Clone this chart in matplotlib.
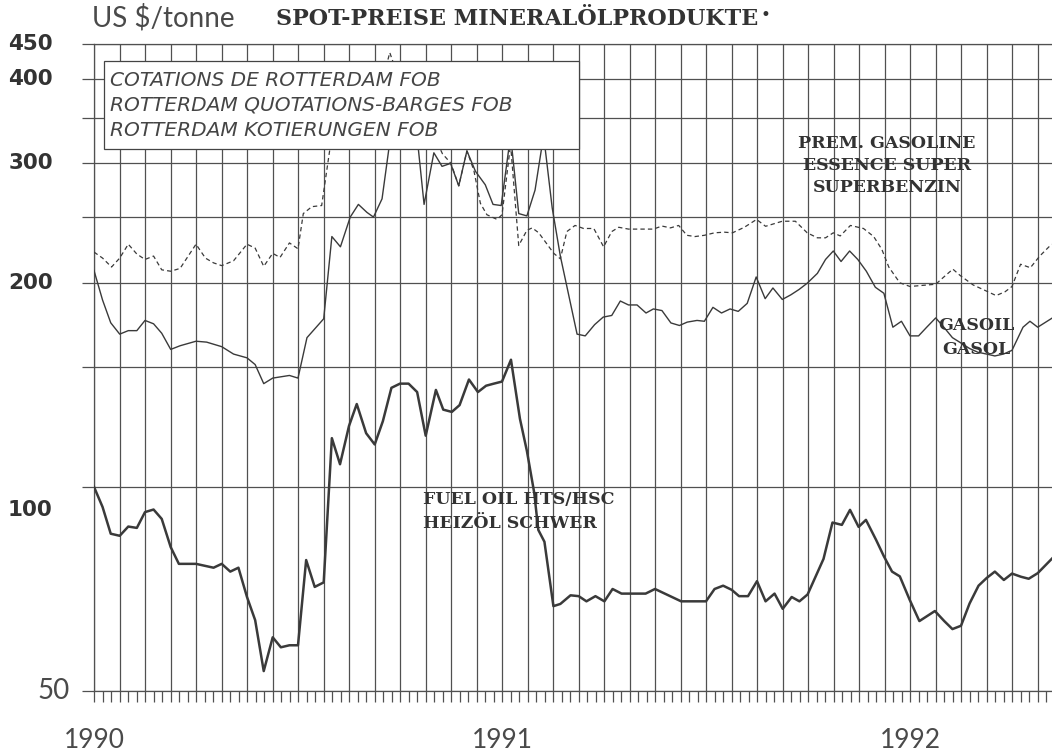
import matplotlib
matplotlib.use("Agg")
import matplotlib.pyplot as plt
from matplotlib.ticker import FixedLocator, NullFormatter
from matplotlib.patches import Rectangle

# decimal years / US$ per tonne
fuel_years = [1990.000, 1990.021, 1990.041, 1990.063, 1990.084, 1990.105, 1990.125, 1990.146,
              1990.166, 1990.188, 1990.208, 1990.250, 1990.293, 1990.313, 1990.334, 1990.354,
              1990.375, 1990.395, 1990.416, 1990.438, 1990.458, 1990.479, 1990.500, 1990.520,
              1990.541, 1990.563, 1990.583, 1990.603, 1990.625, 1990.644, 1990.667, 1990.688,
              1990.708, 1990.729, 1990.750, 1990.771, 1990.792, 1990.813, 1990.838, 1990.856,
              1990.877, 1990.896, 1990.919, 1990.941, 1990.961, 1990.980, 1991.000, 1991.022,
              1991.044, 1991.061, 1991.079, 1991.089, 1991.104, 1991.126, 1991.143, 1991.168,
              1991.188, 1991.207, 1991.229, 1991.251, 1991.271, 1991.293, 1991.313, 1991.352,
              1991.375, 1991.439, 1991.500, 1991.521, 1991.542, 1991.563, 1991.581, 1991.603,
              1991.625, 1991.646, 1991.668, 1991.688, 1991.710, 1991.729, 1991.749, 1991.788,
              1991.810, 1991.833, 1991.853, 1991.874, 1991.892, 1991.917, 1991.936, 1991.956,
              1991.975, 1991.999, 1992.023, 1992.061, 1992.084, 1992.104, 1992.125, 1992.146,
              1992.168, 1992.188, 1992.208, 1992.230, 1992.250, 1992.272, 1992.291, 1992.313,
              1992.349]
fuel_oil = [100, 93.4, 85.3, 84.7, 87.4, 87, 91.8, 92.6,
            89.7, 81.5, 77, 77, 76, 77, 75, 76,
            68.8, 63.6, 53.5, 60, 58, 58.4, 58.4, 78,
            71.2, 72.3, 118, 108, 123, 132.5, 120, 115.5,
            125, 140, 142, 142, 138, 119, 139, 130,
            129, 132, 144, 138, 141, 142, 143, 154,
            126, 113, 98, 86.4, 83, 66.7, 67.2, 69.2,
            69, 67.8, 69, 67.8, 70.7, 69.6, 69.6, 69.6,
            70.7, 67.8, 67.8, 70.7, 71.5, 70.5, 69, 69,
            72.6, 67.8, 69.6, 66.1, 68.8, 67.8, 69.4, 78.3,
            88.6, 87.9, 92.5, 87.3, 89.4, 83.5, 79, 75,
            73.8, 68.2, 63.4, 65.6, 63.4, 61.7, 62.4, 67.3,
            71.5, 73.4, 75, 72.9, 74.5, 73.7, 73.2, 74.6,
            78.5]

gasoil_years = [1990.000, 1990.021, 1990.041, 1990.063, 1990.084, 1990.105, 1990.125, 1990.146,
                1990.166, 1990.188, 1990.211, 1990.250, 1990.276, 1990.313, 1990.342, 1990.375,
                1990.395, 1990.416, 1990.438, 1990.479, 1990.500, 1990.522, 1990.563, 1990.583,
                1990.604, 1990.628, 1990.648, 1990.669, 1990.685, 1990.706, 1990.722, 1990.738,
                1990.769, 1990.795, 1990.809, 1990.833, 1990.853, 1990.874, 1990.894, 1990.914,
                1990.935, 1990.959, 1990.978, 1990.998, 1991.021, 1991.041, 1991.061, 1991.081,
                1991.102, 1991.123, 1991.143, 1991.184, 1991.204, 1991.227, 1991.248, 1991.269,
                1991.290, 1991.310, 1991.331, 1991.353, 1991.371, 1991.392, 1991.414, 1991.435,
                1991.454, 1991.478, 1991.496, 1991.517, 1991.538, 1991.559, 1991.579, 1991.601,
                1991.623, 1991.645, 1991.664, 1991.687, 1991.708, 1991.728, 1991.748, 1991.773,
                1991.793, 1991.812, 1991.831, 1991.852, 1991.872, 1991.893, 1991.915, 1991.936,
                1991.958, 1991.979, 1992.000, 1992.021, 1992.041, 1992.063, 1992.083, 1992.104,
                1992.125, 1992.146, 1992.166, 1992.188, 1992.208, 1992.229, 1992.250, 1992.277,
                1992.294, 1992.313, 1992.349]
gasoil = [208.5, 188.6, 174.6, 168, 170, 170, 176, 174,
          168.5, 159.5, 161.5, 164, 163.5, 161, 157, 155,
          151.5, 142, 144.7, 146, 144.7, 166, 177, 234,
          226, 250, 261, 254, 250, 266, 313, 400,
          340, 315, 261, 311, 297, 300, 278, 313,
          292, 279, 261, 260, 330, 253, 251, 274,
          330, 258, 219, 168, 167, 173.5, 178, 179,
          188, 185.5, 185.5, 180.5, 183, 182, 174.5, 173,
          175, 176, 175.5, 184, 180.5, 183, 181.5, 186.5,
          204, 189.5, 196.5, 189, 192, 195.5, 199.7, 206.5,
          216.5, 222.8, 215, 222.8, 216.5, 208, 197, 193,
          172, 175.5, 167, 167, 172, 177.5, 172, 166,
          163, 160, 158, 157, 156, 157, 159, 172,
          175.5, 172, 177.5]

gasoline_years = [1990.000, 1990.021, 1990.043, 1990.063, 1990.084, 1990.105, 1990.125, 1990.146,
                  1990.166, 1990.188, 1990.211, 1990.250, 1990.273, 1990.293, 1990.313, 1990.342,
                  1990.375, 1990.395, 1990.416, 1990.438, 1990.456, 1990.479, 1990.500, 1990.513,
                  1990.534, 1990.558, 1990.583, 1990.604, 1990.625, 1990.644, 1990.666, 1990.688,
                  1990.708, 1990.725, 1990.744, 1990.769, 1990.794, 1990.813, 1990.833, 1990.854,
                  1990.875, 1990.894, 1990.914, 1990.931, 1990.947, 1990.963, 1990.988, 1991.000,
                  1991.021, 1991.041, 1991.061, 1991.074, 1991.090, 1991.127, 1991.143, 1991.159,
                  1991.179, 1991.200, 1991.225, 1991.249, 1991.269, 1991.286, 1991.310, 1991.339,
                  1991.371, 1991.392, 1991.413, 1991.433, 1991.453, 1991.473, 1991.496, 1991.521,
                  1991.545, 1991.565, 1991.594, 1991.624, 1991.646, 1991.687, 1991.719, 1991.748,
                  1991.773, 1991.793, 1991.812, 1991.829, 1991.854, 1991.886, 1991.911, 1991.931,
                  1991.948, 1991.975, 1992.000, 1992.041, 1992.063, 1992.081, 1992.105, 1992.123,
                  1992.155, 1992.179, 1992.211, 1992.233, 1992.250, 1992.271, 1992.295, 1992.318,
                  1992.347]
gasoline = [222, 217.5, 211, 217.5, 228, 220.5, 216.5, 219,
            209, 208, 210, 228, 217.5, 214, 212, 215.5,
            228, 225, 211.5, 221, 218, 229, 224.5, 253,
            259, 260, 330, 370, 395, 412, 390, 380,
            400, 437, 405, 360, 330, 320, 330, 310,
            300, 278, 313, 293, 262, 252, 248, 252,
            320, 227, 239, 241, 237, 221, 217, 238,
            243, 240.5, 240.5, 226, 238, 241.5, 240, 240,
            240, 242.5, 241, 243, 235, 234, 235, 237,
            237.5, 237, 241.5, 248, 242.3, 246.5, 246.5, 237,
            233, 233, 237, 234.5, 243, 240.5, 234, 224,
            211, 200, 197.5, 198.5, 199, 203.5, 209.5, 205,
            198.5, 195.5, 191.5, 194, 197.5, 213, 210.5, 219,
            228]

y_grid = [50, 100, 150, 200, 250, 300, 350, 400, 450]
y_labels = [450, 400, 300, 200, 100]
year_labels = [1990, 1991, 1992]
box_lines = ["COTATIONS DE ROTTERDAM FOB",
             "ROTTERDAM QUOTATIONS-BARGES FOB",
             "ROTTERDAM KOTIERUNGEN FOB"]

INK = "#3a3a3a"
THIN = ["Lato", "DejaVu Sans"]
W, H = 1052, 751

fig = plt.figure(figsize=(W / 100, H / 100), dpi=100)
fig.patch.set_facecolor("white")
ax = fig.add_axes([94 / W, (H - 691) / H, 958 / W, (691 - 44) / H])

ax.plot(gasoline_years, gasoline, color=INK, lw=0.9, dashes=(3.5, 2.5), zorder=3)
ax.plot(gasoil_years, gasoil, color=INK, lw=1.0, zorder=3)
ax.plot(fuel_years, fuel_oil, color=INK, lw=1.8, zorder=3)

ax.set_yscale("log")
ax.set_ylim(50, 450)
ax.set_xlim(1990, 1990 + 958 / 408)

# grid: horizontal lines every 50, vertical every 1/16 year, small ticks every 1/48
ax.yaxis.set_major_locator(FixedLocator(y_grid))
ax.yaxis.set_minor_locator(FixedLocator([]))
ax.yaxis.set_major_formatter(NullFormatter())
ax.yaxis.set_minor_formatter(NullFormatter())
ax.xaxis.set_major_locator(FixedLocator([1990 + k / 16 for k in range(40)]))
ax.xaxis.set_minor_locator(FixedLocator([1990 + k / 48 for k in range(120)]))
ax.xaxis.set_major_formatter(NullFormatter())
ax.grid(True, which="major", color="#505050", lw=0.9, zorder=1)
ax.tick_params(axis="y", which="major", direction="out", length=9, width=0.9, color="#505050")
ax.tick_params(axis="x", which="both", direction="out", length=8, width=0.9, color="#505050")
for side in ["left", "bottom", "top"]:
    ax.spines[side].set_color("#505050")
    ax.spines[side].set_linewidth(0.9)
ax.spines["right"].set_visible(False)

ytr = ax.get_yaxis_transform()
for v in y_labels:
    # the 100 label sits a little below its grid line in the original
    pos = v * 10 ** (-23 / 678) if v == 100 else v
    ax.text(-0.043, pos, str(v), transform=ytr, ha="right", va="center",
            fontsize=15.5, fontweight="bold", color="#333333", family="DejaVu Sans")
ax.text(-0.025, 50, "50", transform=ytr, ha="right", va="center",
        fontsize=20, color="#4a4a4a", family=THIN)

xtr = ax.get_xaxis_transform()
for yr in year_labels:
    ax.text(yr, -0.076, str(yr), transform=xtr, ha="center", va="center",
            fontsize=19, color="#4a4a4a", family=THIN)

# header
fig.text(92 / W, 1 - 18 / H, "US $/tonne", ha="left", va="center", fontsize=20,
         color="#4a4a4a", family=THIN)
title = fig.text(276 / W, 1 - 19 / H, "SPOT-PREISE MINERALÖLPRODUKTE", ha="left",
                 va="center", fontsize=16, fontweight="bold", color="#333333",
                 family="DejaVu Serif")
ax.annotate("•", xy=(1, 1), xycoords=title, xytext=(1.5, -5), textcoords="offset points",
            ha="left", va="center", fontsize=12, color="#333333", annotation_clip=False)

# quotation box
box = Rectangle((104 / W, 1 - 149 / H), (579 - 104) / W, (149 - 61) / H,
                transform=fig.transFigure, facecolor="white", edgecolor="#444444",
                lw=0.9, zorder=5)
fig.patches.append(box)
for k, line in enumerate(box_lines):
    fig.text(110 / W, 1 - (80 + 25 * k) / H, line, ha="left", va="center", fontsize=14.5,
             style="italic", color="#454545", family="DejaVu Sans", zorder=6)

# series labels
lab = dict(fontsize=12.5, fontweight="bold", color="#333333", family="DejaVu Serif",
           zorder=4, transform=fig.transFigure, va="center")
ax.text(887 / W, 1 - 143 / H, "PREM. GASOLINE", ha="center", **lab)
ax.text(887 / W, 1 - 165 / H, "ESSENCE SUPER", ha="center", **lab)
ax.text(887 / W, 1 - 188 / H, "SUPERBENZIN", ha="center", **lab)
ax.text(976 / W, 1 - 325 / H, "GASOIL", ha="center", **lab)
ax.text(976 / W, 1 - 349 / H, "GASOL", ha="center", **lab)
ax.text(423 / W, 1 - 500 / H, "FUEL OIL HTS/HSC", ha="left", **lab)
ax.text(423 / W, 1 - 524 / H, "HEIZÖL SCHWER", ha="left", **lab)

fig.savefig("out.png", dpi=100)
